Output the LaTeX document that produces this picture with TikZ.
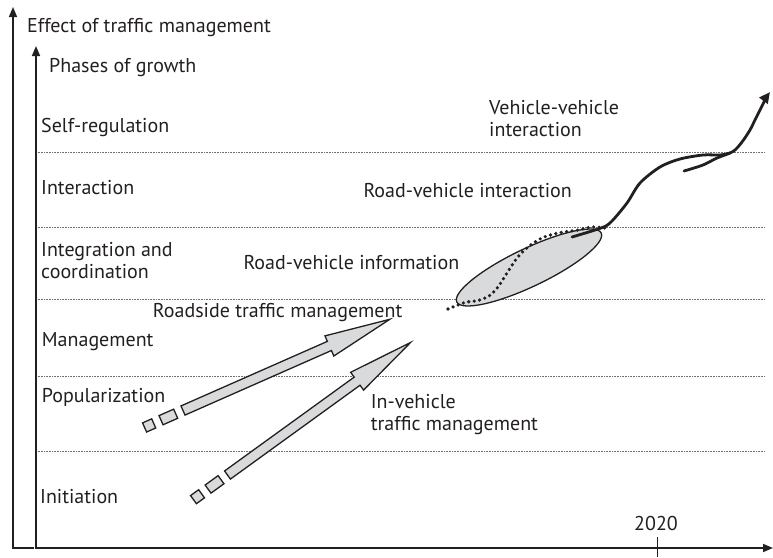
\documentclass[tikz,border=0pt]{standalone}
\usepackage{fontspec}
\setmainfont{PT Sans}
\usetikzlibrary{arrows.meta}
\definecolor{ink}{HTML}{231F20}
\definecolor{shade}{HTML}{D9DADB}
\definecolor{rulegray}{HTML}{707173}
\tikzset{
  phase/.style={anchor=base west, inner sep=0pt, text=ink, align=left,
    font=\fontsize{20}{22}\selectfont},
  axis/.style={draw=ink, line width=1.6pt},
  level/.style={draw=rulegray, line width=0.7pt, dash pattern=on 0.8pt off 0.8pt},
  blockarr/.style={draw=ink, fill=shade, line width=1.3pt},
  growth/.style={draw=ink, line width=2.8pt, line cap=round},
  dotcurve/.style={draw=ink, line width=3.6pt, line cap=round, dash pattern=on 0pt off 5.5pt}
}
\newcommand{\trafficarrow}[3]{%
  \begin{scope}[shift={(#1,#2)}, rotate=#3]
    \draw[blockarr] (0,-5) -- (160,-5) -- (160,-11) -- (226,0) -- (160,11) -- (160,5) -- (0,5) -- cycle;
    \draw[blockarr] (-24,-5) rectangle (-8,5);
    \draw[blockarr] (-42,-5) rectangle (-32,5);
  \end{scope}}

\begin{document}
\begin{tikzpicture}[x=1pt, y=-1pt]
    \useasboundingbox (0,0) rectangle (773,557);

    \coordinate (outer) at (13,548);
    \coordinate (origin) at (36,548);
    \coordinate (y2020) at (657.5,548);

    \foreach \y in {152,227,299,376,451}
        \draw[level] (36,\y) -- (765,\y);

    \draw[axis, -{Triangle[length=10pt,width=8pt]}] (34,548) -- (outer) -- (13,7);
    \draw[axis, {Triangle[length=10pt,width=8pt]}-{Triangle[length=10pt,width=8pt]}] (773,548) -- (origin) -- (36,46);
    \draw[axis] (y2020) ++(0,-11) -- ++(0,20);

    \node[phase] (effect) at (27,32.5) {Effect of traffic management};
    \node[phase] (phases) at (49,72) {Phases of growth};
    \node[phase] (selfreg) at (41,132.5) {Self-regulation};
    \node[phase] (interact) at (41,194.5) {Interaction};
    \node[phase] (integ) at (41,278.5) {Integration and\\coordination};
    \node[phase] (manage) at (41.7,346) {Management};
    \node[phase] (popular) at (41.7,402.7) {Popularization};
    \node[phase] (init) at (40,503.3) {Initiation};

    \node[phase] (vv) at (489,136) {Vehicle-vehicle\\interaction};
    \node[phase] (rvint) at (363.3,197.3) {Road-vehicle interaction};
    \node[phase] (rvinf) at (243.3,269) {Road-vehicle information};
    \node[phase] (roadside) at (152.7,317.3) {Roadside traffic management};
    \node[phase] (invehicle) at (370.7,430) {In-vehicle\\traffic management};
    \node[phase, anchor=base] (year) at (656,530) {2020};

    \trafficarrow{183}{410.5}{23.8}
    \trafficarrow{227.5}{475}{35.9}

    \draw[draw=ink, fill=shade, line width=1.3pt, rotate around={25.5:(529,267.5)}]
        (529,267.5) ellipse [x radius=80, y radius=19];

    \draw[dotcurve] plot[smooth] coordinates {(448,309) (465,302.5) (478,300.5) (489,296)
        (498,287) (507,273) (517,258) (528,247) (542,238) (558,233) (578,230) (592,227) (605,228)};
    \draw[growth] plot[smooth] coordinates {(572,237) (601,228) (611,222) (627,203) (640,183)
        (660,167) (680,159) (703,155) (720,155) (730,153)};
    \draw[growth, -{Triangle[length=11pt,width=10pt]}] plot[smooth] coordinates {(684,171) (703,165)
        (717,158) (733,151.5) (742,142) (750,130) (754,122) (760,110) (766,98) (770,92)};
\end{tikzpicture}
\end{document}
